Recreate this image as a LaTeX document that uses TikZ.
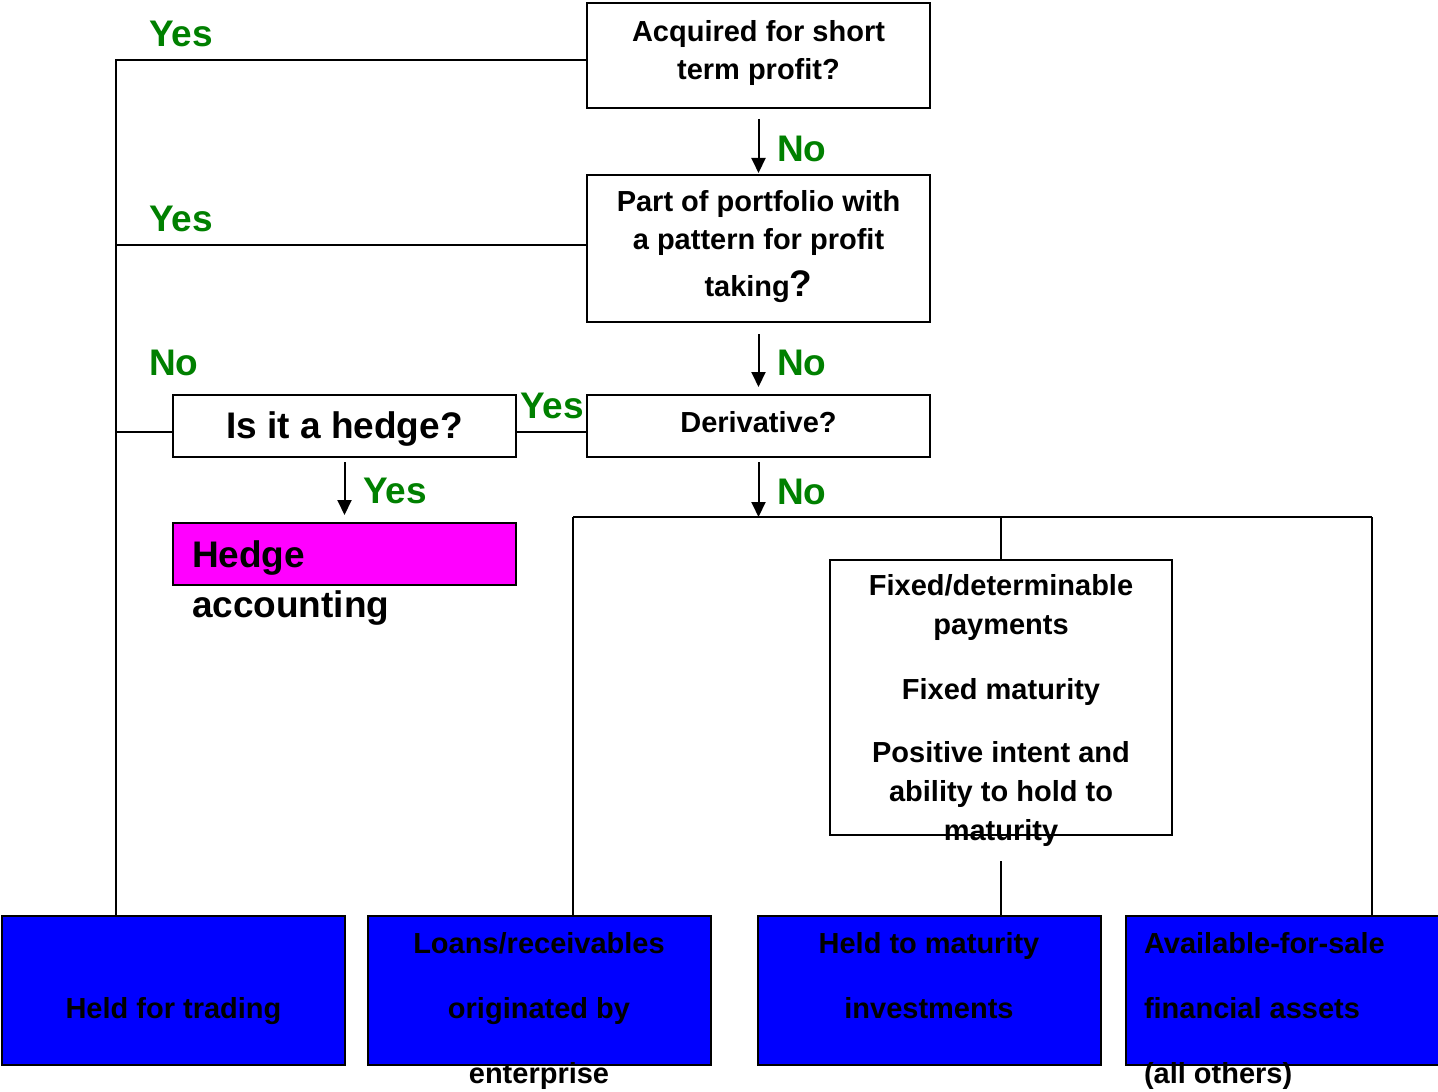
\documentclass[tikz,border=0pt]{standalone}
\usepackage{fontspec}
\setmainfont{Liberation Sans}
\usetikzlibrary{arrows.meta, positioning}
\definecolor{ansgreen}{RGB}{0,128,0}
\definecolor{hedgepink}{RGB}{255,0,255}
\definecolor{catblue}{RGB}{0,0,255}

\begin{document}
\begin{tikzpicture}[x=0.5pt,y=-0.5pt,line width=1pt,>={Triangle[length=7.5pt,width=7pt]},
    every node/.style={inner sep=0pt,font=\bfseries\fontsize{14.5}{19}\selectfont},
    question/.style={draw,minimum width=171.5pt,align=center},
    category/.style={draw,fill=catblue,minimum width=171.5pt,minimum height=74.5pt},
    answer/.style={text=ansgreen,anchor=base west,font=\bfseries\fontsize{18.5}{22}\selectfont},
    flow/.style={->}]
    \useasboundingbox (0,0) rectangle (1438,1091);

    % questions
    \node[question,minimum height=52.5pt,text depth=6pt] (acq) at (758.5,55.5) {Acquired for short\\term profit?};
    \node[question,minimum height=73.5pt,text depth=5pt] (port) at (758.5,248.5) {Part of portfolio with\\a pattern for profit\\[4.5pt]taking{\fontsize{18.5}{19}\selectfont?}};
    \node[question,minimum height=31pt,text depth=4pt] (deriv) at (758.5,426) {Derivative?};
    \node[question,minimum height=31pt,text height=16.5pt,font=\bfseries\fontsize{18.5}{22}\selectfont] (hedgeq) at (344.5,426) {Is it a hedge?};
    \node[question,minimum height=31pt,fill=hedgepink] (hedgeacc) at (344.5,554) {};
    \node[anchor=north west,align=left,font=\bfseries\fontsize{18.5}{25}\selectfont] (hedgetxt) at (191,540) {Hedge\\accounting};
    \node[draw,minimum width=171pt,minimum height=137.5pt] (htmtest) at (1001,697.5) {};
    \node[anchor=north,align=center,font=\bfseries\fontsize{14.5}{19.5}\selectfont] (htmtesttxt) at (1001,573) {Fixed/determinable\\payments\\[13pt]Fixed maturity\\[12pt]Positive intent and\\ability to hold to\\maturity};

    % categories
    \node[category] (hft) at (173.5,990.5) {};
    \node[category] (loans) at (539,990.5) {};
    \node[category] (htm) at (929,990.5) {};
    \node[category] (afs) at (1297.5,990.5) {};
    \node[anchor=base] (hfttxt) at (173.5,1018) {Held for trading};
    \node[anchor=north,align=center,font=\bfseries\fontsize{14.5}{32.5}\selectfont] (loanstxt) at (539,931) {Loans/receivables\\originated by\\enterprise};
    \node[anchor=north,align=center,font=\bfseries\fontsize{14.5}{32.5}\selectfont] (htmtxt) at (929,931) {Held to maturity\\investments};
    \node[anchor=north west,align=left,font=\bfseries\fontsize{14.5}{32.5}\selectfont] (afstxt) at (1143,931) {Available-for-sale\\financial assets\\(all others)};

    % yes branches
    \coordinate (trunk) at (116,60);
    \draw ([yshift=-2.25pt]acq.west) -- (trunk) -- (trunk |- hft.north);
    \draw ([yshift=1.75pt]port.west) -- ([yshift=1.75pt]port.west -| trunk);
    \draw ([yshift=-3pt]hedgeq.west) -- ([yshift=-3pt]hedgeq.west -| trunk);
    \draw ([yshift=-3pt]deriv.west) -- ([yshift=-3pt]hedgeq.east);

    % no branches
    \draw[flow,shorten >=0.5pt] ([yshift=-5pt]acq.south) -- (port.north);
    \draw[flow,shorten >=3.5pt] ([yshift=-5.5pt]port.south) -- (deriv.north);
    \draw[flow,shorten >=3.5pt] ([yshift=-2pt]hedgeq.south) -- (hedgeacc.north);
    \coordinate (bus) at (758.5,517);
    \coordinate (busl) at (573,517);
    \coordinate (busr) at (1372,517);
    \draw[flow] ([yshift=-2pt]deriv.south) -- (bus);
    \draw (busl) -- (busr);
    \draw (busl) -- (busl |- loans.north);
    \draw (htmtest.north |- busl) -- (htmtest.north);
    \draw ([yshift=-12.5pt]htmtest.south) -- (htm.north -| htmtest.south);
    \draw (busr) -- (busr |- afs.north);

    % answers
    \node[answer] (yes1) at (148,47) {Yes};
    \node[answer] (yes2) at (148,232) {Yes};
    \node[answer] (no0) at (148,375) {No};
    \node[answer] (yes3) at (519,418) {Yes};
    \node[answer] (yes4) at (362,503) {Yes};
    \node[answer] (no1) at (776,162) {No};
    \node[answer] (no2) at (776,375) {No};
    \node[answer] (no3) at (776,504) {No};
\end{tikzpicture}
\end{document}
